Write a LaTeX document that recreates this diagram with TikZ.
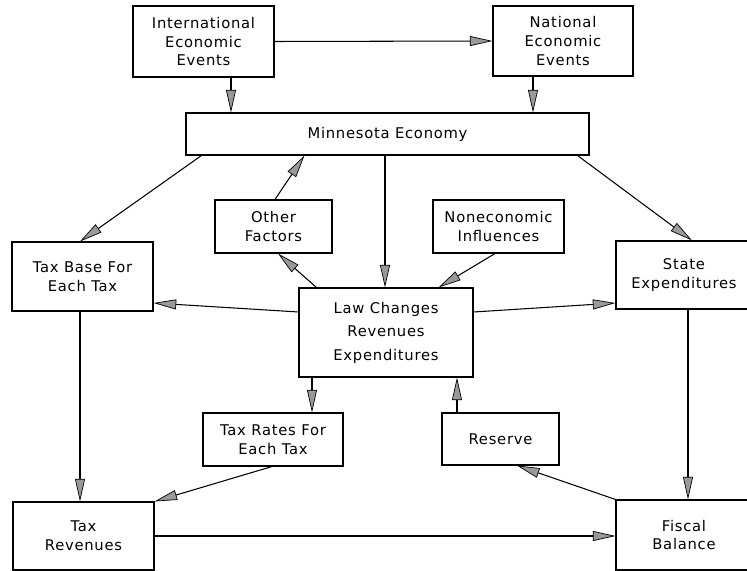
\documentclass[tikz,border=0pt]{standalone}
\usepackage{fontspec}
\setmainfont{DejaVu Sans}[LetterSpace=5]
\usepackage{xcolor}
\usepackage{tikz}
\usetikzlibrary{shapes,arrows.meta,positioning}
\usetikzlibrary{calc}
\tikzstyle{block} = [rectangle, draw, fill=white, line width=0.9pt,
    align=center, font=\fontsize{12.6}{16}\selectfont, inner sep=2pt]
\tikzstyle{line} = [draw, line width=0.9pt,
    -{Triangle[length=0.68cm, width=0.3cm, fill=gray!80, line width=0.6pt]}]

\begin{document}
\begin{tikzpicture}[x=0.03cm, y=-0.03cm]
        \useasboundingbox [fill=white] (0,0) rectangle (747,571);
        % Components
        \node [block, minimum width=4.23cm, minimum height=2.13cm] (intl) at (203.5,41.5) {International\\Economic\\Events};
        \node [block, minimum width=4.2cm, minimum height=2.1cm] (natl) at (563,41) {National\\Economic\\Events};
        \node [block, minimum width=12.09cm, minimum height=1.26cm] (mn) at (387.5,134) {Minnesota Economy};
        \node [block, minimum width=3.51cm, minimum height=1.59cm] (other) at (273.5,226.5) {Other\\Factors};
        \node [block, minimum width=3.93cm, minimum height=1.59cm] (nonec) at (498.5,226.5) {Noneconomic\\Influences};
        \node [block, minimum width=4.23cm, minimum height=2.07cm] (base) at (82.5,276.5) {Tax Base For\\Each Tax};
        \node [block, minimum width=5.22cm, minimum height=2.67cm] (law) at (386,332.5) {Law Changes\\[4pt]Revenues\\[4pt]Expenditures};
        \node [block, minimum width=4.08cm, minimum height=2.04cm] (state) at (684,275) {State\\Expenditures};
        \node [block, minimum width=4.2cm, minimum height=1.59cm] (rates) at (273,439.5) {Tax Rates For\\Each Tax};
        \node [block, minimum width=3.51cm, minimum height=1.56cm] (reserve) at (500.5,439) {Reserve};
        \node [block, minimum width=4.23cm, minimum height=2.04cm] (rev) at (83.5,536) {Tax\\Revenues};
        \node [block, minimum width=4.08cm, minimum height=2.1cm] (fiscal) at (684,535) {Fiscal\\Balance};

        % Attach points
        \coordinate (intl-out) at ($(intl.south)+(27.5,0)$);
        \coordinate (natl-out) at ($(natl.south)+(-30,0)$);
        \coordinate (mn-down) at ($(mn.south)+(-2.5,0)$);
        \coordinate (law-down) at ($(law.south)+(-74,0)$);
        \coordinate (reserve-up) at ($(reserve.north)+(-43.5,0)$);
        \coordinate (base-down) at ($(base.south)+(-2.5,0)$);
        \coordinate (state-down) at ($(state.south)+(4,0)$);

        % Connections
        \path [line] (intl-out) -- (intl-out |- mn.north);
        \path [line] (natl-out) -- (natl-out |- mn.north);
        \path [line] (intl.east) -- (natl.west);
        \path [line] ($(mn.south west)+(16,0)$) -- ($(base.north)+(-2.5,0)$);
        \path [line] (mn-down) -- (mn-down |- law.north);
        \path [line] ($(mn.south east)+(-12,0)$) -- ($(state.north)+(8,0)$);
        \path [line] ($(law.north west)+(18,0)$) -- ($(other.south)+(4.5,0)$);
        \path [line] ($(other.north)+(1.5,0)$) -- ($(mn.south west)+(119,0)$);
        \path [line] ($(nonec.south)+(-3.5,0)$) -- ($(law.north east)+(-35,0)$);
        \path [line] ($(law.west)+(0,-20.5)$) -- ($(base.east)+(0,26.5)$);
        \path [line] ($(law.east)+(0,-20.5)$) -- ($(state.west)+(0,28)$);
        \path [line] (law-down) -- (law-down |- rates.north);
        \path [line] (reserve-up) -- (reserve-up |- law.south);
        \path [line] (base-down) -- (base-down |- rev.north);
        \path [line] ($(rates.south)+(-1,0)$) -- (rev.north east);
        \path [line] (rev.east) -- (rev.east -| fiscal.west);
        \path [line] (state-down) -- (state-down |- fiscal.north);
        \path [line] (fiscal.north west) -- ($(reserve.south)+(16.5,0)$);
    \end{tikzpicture}
\end{document}
